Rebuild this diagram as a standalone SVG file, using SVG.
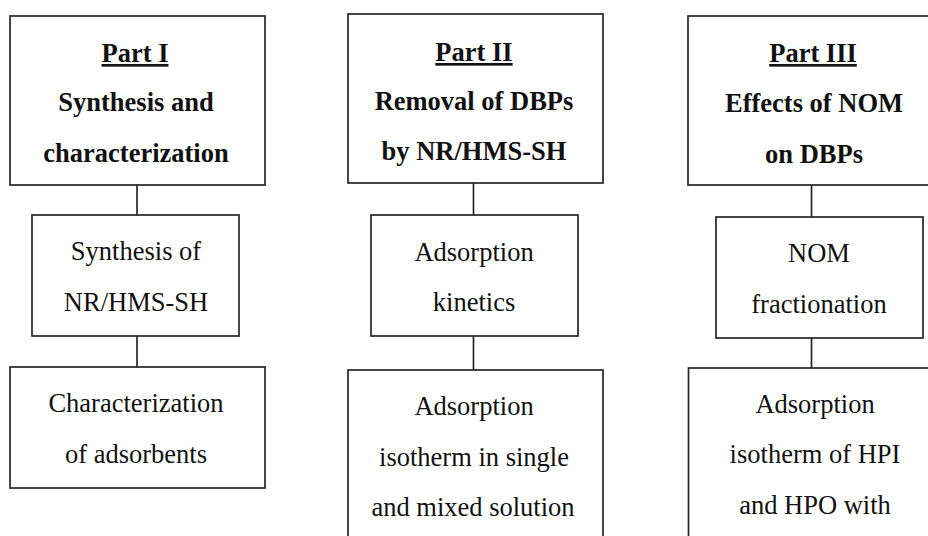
<svg xmlns="http://www.w3.org/2000/svg" width="928" height="536" viewBox="0 0 928 536">
<style>
.box{fill:#fff;stroke:#262626;stroke-width:1.7}
.ln{stroke:#262626;stroke-width:1.7;fill:none}
.b{font-family:"Liberation Serif","Times New Roman",serif;font-weight:bold;font-size:26.5px;fill:#111;text-anchor:middle}
.r{font-family:"Liberation Serif","Times New Roman",serif;font-size:26.5px;fill:#111;text-anchor:middle}
.u{text-decoration:underline}
</style>
<rect width="928" height="536" fill="#fff"/>
<g id="connectors">
<line class="ln" x1="137" y1="185" x2="137" y2="215"/>
<line class="ln" x1="137" y1="336" x2="137" y2="367"/>
<line class="ln" x1="473.5" y1="183" x2="473.5" y2="215"/>
<line class="ln" x1="473.5" y1="336" x2="473.5" y2="370"/>
<line class="ln" x1="811.5" y1="185" x2="811.5" y2="217"/>
<line class="ln" x1="811.5" y1="338" x2="811.5" y2="368"/>
</g>
<g id="part1">
<rect class="box" x="10" y="16" width="255" height="169"/>
<text class="b u" x="135" y="62">Part I</text>
<text class="b" x="136" y="111">Synthesis and</text>
<text class="b" x="136" y="162">characterization</text>
</g>
<g id="synthesis">
<rect class="box" x="32" y="215" width="207" height="121"/>
<text class="r" x="136" y="260">Synthesis of</text>
<text class="r" x="136" y="311">NR/HMS-SH</text>
</g>
<g id="characterization">
<rect class="box" x="10" y="367" width="255" height="121"/>
<text class="r" x="136" y="412">Characterization</text>
<text class="r" x="136" y="463">of adsorbents</text>
</g>
<g id="part2">
<rect class="box" x="348" y="14" width="255" height="169"/>
<text class="b u" x="474" y="61">Part II</text>
<text class="b" x="474" y="110">Removal of DBPs</text>
<text class="b" x="474" y="160">by NR/HMS-SH</text>
</g>
<g id="kinetics">
<rect class="box" x="371" y="215" width="207" height="121"/>
<text class="r" x="474" y="261">Adsorption</text>
<text class="r" x="474" y="311">kinetics</text>
</g>
<g id="isotherm2">
<rect class="box" x="348" y="370" width="255" height="180"/>
<text class="r" x="474" y="415">Adsorption</text>
<text class="r" x="474" y="466">isotherm in single</text>
<text class="r" x="473" y="516">and mixed solution</text>
</g>
<g id="part3">
<rect class="box" x="688" y="16" width="250" height="169"/>
<text class="b u" x="813" y="62">Part III</text>
<text class="b" x="814" y="112">Effects of NOM</text>
<text class="b" x="814" y="163">on DBPs</text>
</g>
<g id="fractionation">
<rect class="box" x="716" y="217" width="207" height="121"/>
<text class="r" x="819" y="262">NOM</text>
<text class="r" x="819" y="313">fractionation</text>
</g>
<g id="isotherm3">
<rect class="box" x="688.5" y="368" width="250" height="180"/>
<text class="r" x="815" y="413">Adsorption</text>
<text class="r" x="815" y="463">isotherm of HPI</text>
<text class="r" x="815" y="514">and HPO with</text>
</g>
</svg>
